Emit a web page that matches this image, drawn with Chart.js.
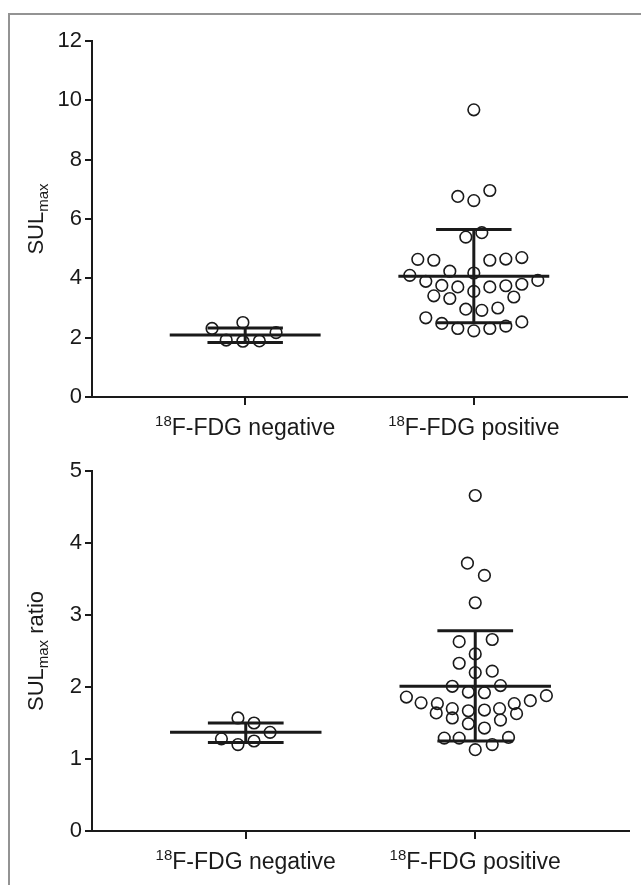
<!DOCTYPE html>
<html>
<head>
<meta charset="utf-8">
<script src="https://cdn.jsdelivr.net/npm/chart.js@4.4.0/dist/chart.umd.min.js"></script>
<style>
  html, body { margin: 0; padding: 0; background: #fff; }
  #fig { position: relative; width: 641px; height: 885px; overflow: hidden; }
  #frame { position: absolute; left: 8px; top: 13px; width: 700px; height: 900px;
           border-top: 2px solid #939393; border-left: 2px solid #939393; }
  .panel { position: absolute; left: 0; width: 641px; }
  #p1 { top: 0; height: 450px; }
  #p2 { top: 450px; height: 435px; }
</style>
</head>
<body>
<div id="fig">
  <div id="frame"></div>
  <div class="panel" id="p1"><canvas id="sulChart"></canvas></div>
  <div class="panel" id="p2"><canvas id="ratioChart"></canvas></div>
</div>
<script>
// categories (drawn with a superscript isotope number)
const isotope = '18';
const categories = ['F-FDG negative', 'F-FDG positive'];

// SULmax, individual lesions (x = category position incl. scatter offset)
const sulNegX = [0.855, 0.99, 1.135, 0.917, 0.99, 1.062];
const sulNegY = [2.31, 2.51, 2.17, 1.92, 1.88, 1.89];
const sulPosX = [2.00, 1.93, 2.00, 2.07, 1.965, 2.035, 1.755, 1.825, 2.07, 2.14, 2.21, 1.72,
  1.895, 2.00, 1.79, 1.86, 1.93, 2.00, 2.07, 2.14, 2.21, 2.28, 1.825, 1.895, 2.175, 1.965,
  2.035, 2.105, 1.79, 1.86, 1.93, 2.00, 2.07, 2.14, 2.21];
const sulPosY = [9.68, 6.76, 6.62, 6.96, 5.39, 5.54, 4.64, 4.61, 4.61, 4.65, 4.70, 4.10,
  4.24, 4.18, 3.90, 3.76, 3.71, 3.56, 3.71, 3.75, 3.80, 3.93, 3.41, 3.32, 3.37, 2.96,
  2.92, 3.00, 2.67, 2.48, 2.31, 2.23, 2.31, 2.39, 2.53];
const sulMean = [2.09, 4.07];
const sulUpper = [2.33, 5.65];
const sulLower = [1.84, 2.50];
const sulTicks = [0, 2, 4, 6, 8, 10, 12];

// SULmax ratio
const ratioNegX = [0.966, 1.036, 1.106, 0.894, 0.966, 1.036];
const ratioNegY = [1.57, 1.50, 1.37, 1.28, 1.20, 1.25];
const ratioPosX = [2.00, 1.966, 2.04, 2.00, 1.93, 2.074, 2.00, 1.93, 2.00, 2.074, 1.90, 2.11,
  1.97, 2.04, 1.70, 1.764, 1.835, 1.83, 1.90, 1.97, 2.04, 2.106, 2.17, 2.18, 2.24, 2.31,
  1.90, 2.11, 1.97, 2.04, 1.865, 1.93, 2.145, 2.074, 2.00];
const ratioPosY = [4.66, 3.72, 3.55, 3.17, 2.63, 2.66, 2.46, 2.33, 2.20, 2.22, 2.01, 2.02,
  1.93, 1.92, 1.86, 1.78, 1.77, 1.64, 1.70, 1.67, 1.68, 1.70, 1.77, 1.63, 1.81, 1.88,
  1.57, 1.54, 1.49, 1.43, 1.29, 1.29, 1.30, 1.20, 1.13];
const ratioMean = [1.37, 2.01];
const ratioUpper = [1.50, 2.78];
const ratioLower = [1.23, 1.25];
const ratioTicks = [0, 1, 2, 3, 4, 5];

const INK = '#1a1a1a';
const FONT = '"Liberation Sans", Arial, sans-serif';

const zip = (xs, ys) => xs.map((x, i) => ({ x, y: ys[i] }));

function seg(x1, y1, x2, y2) {
  return {
    type: 'line', data: [{ x: x1, y: y1 }, { x: x2, y: y2 }],
    borderColor: INK, borderWidth: 3, borderCapStyle: 'butt',
    pointRadius: 0, pointHoverRadius: 0, fill: false, order: 0
  };
}

function statLines(mean, upper, lower) {
  const out = [];
  mean.forEach((m, i) => {
    const c = i + 1;
    out.push(seg(c - 0.33, m, c + 0.33, m));
    out.push(seg(c - 0.165, upper[i], c + 0.165, upper[i]));
    out.push(seg(c - 0.165, lower[i], c + 0.165, lower[i]));
    out.push(seg(c, lower[i], c, upper[i]));
  });
  return out;
}

// custom text: tick labels with superscript, y title with subscript
const labelPlugin = {
  id: 'labels',
  afterDraw(chart, args, o) {
    const { ctx, chartArea, scales } = chart;
    ctx.save();
    ctx.fillStyle = INK;
    ctx.textBaseline = 'alphabetic';
    categories.forEach((txt, i) => {
      const px = scales.x.getPixelForValue(i + 1);
      ctx.font = '15px ' + FONT;
      const w1 = ctx.measureText(isotope).width;
      ctx.font = '23px ' + FONT;
      const w2 = ctx.measureText(txt).width;
      const x0 = px - (w1 + w2) / 2;
      const base = chartArea.bottom + 38;
      ctx.font = '15px ' + FONT;
      ctx.fillText(isotope, x0, base - 9);
      ctx.font = '23px ' + FONT;
      ctx.fillText(txt, x0 + w1, base);
    });
    // y title
    const cy = (chartArea.top + chartArea.bottom) / 2;
    ctx.translate(o.titleX, cy);
    ctx.rotate(-Math.PI / 2);
    ctx.font = '22px ' + FONT;
    const a = ctx.measureText('SUL').width;
    ctx.font = '15px ' + FONT;
    const b = ctx.measureText('max').width;
    ctx.font = '22px ' + FONT;
    const c = o.suffix ? ctx.measureText(o.suffix).width : 0;
    let x = -(a + b + c) / 2;
    ctx.fillText('SUL', x, 0); x += a;
    ctx.font = '15px ' + FONT;
    ctx.fillText('max', x, 5); x += b;
    if (o.suffix) { ctx.font = '22px ' + FONT; ctx.fillText(o.suffix, x, 0); }
    ctx.restore();
  }
};

function buildChart(id, negX, negY, posX, posY, mean, upper, lower, ticks, cfg) {
  const points = {
    type: 'scatter',
    data: zip(negX, negY).concat(zip(posX, posY)),
    pointStyle: 'circle', pointRadius: 5.8, pointHoverRadius: 5.8,
    borderColor: INK, borderWidth: 1.6, backgroundColor: 'rgba(255,255,255,0)', order: 1
  };
  return new Chart(document.getElementById(id), {
    type: 'scatter',
    data: { datasets: [points].concat(statLines(mean, upper, lower)) },
    plugins: [labelPlugin],
    options: {
      responsive: true, maintainAspectRatio: false, animation: false,
      layout: { padding: { top: cfg.top, right: cfg.right, left: 0, bottom: 0 } },
      plugins: { legend: { display: false }, tooltip: { enabled: false },
                 labels: { titleX: 43, suffix: cfg.suffix } },
      scales: {
        x: {
          type: 'linear', min: 0.33, max: 2.67,
          afterBuildTicks: s => { s.ticks = [{ value: 1 }, { value: 2 }]; },
          afterFit: s => { s.height = cfg.xHeight; },
          ticks: { callback: () => '' },
          grid: { drawOnChartArea: false, drawTicks: true, tickLength: 8, color: INK, lineWidth: 2 },
          border: { display: true, color: INK, width: 2 }
        },
        y: {
          type: 'linear', min: ticks[0], max: ticks[ticks.length - 1],
          afterBuildTicks: s => { s.ticks = ticks.map(v => ({ value: v })); },
          afterFit: s => { s.width = 92; },
          ticks: { color: INK, font: { family: FONT, size: 22 }, padding: 3 },
          grid: { drawOnChartArea: false, drawTicks: true, tickLength: 7, color: INK, lineWidth: 2 },
          border: { display: true, color: INK, width: 2 }
        }
      }
    }
  });
}

buildChart('sulChart', sulNegX, sulNegY, sulPosX, sulPosY, sulMean, sulUpper, sulLower, sulTicks,
  { top: 41, right: 14, xHeight: 53, suffix: '' });
buildChart('ratioChart', ratioNegX, ratioNegY, ratioPosX, ratioPosY, ratioMean, ratioUpper, ratioLower, ratioTicks,
  { top: 21, right: 12, xHeight: 54, suffix: ' ratio' });
</script>
</body>
</html>
